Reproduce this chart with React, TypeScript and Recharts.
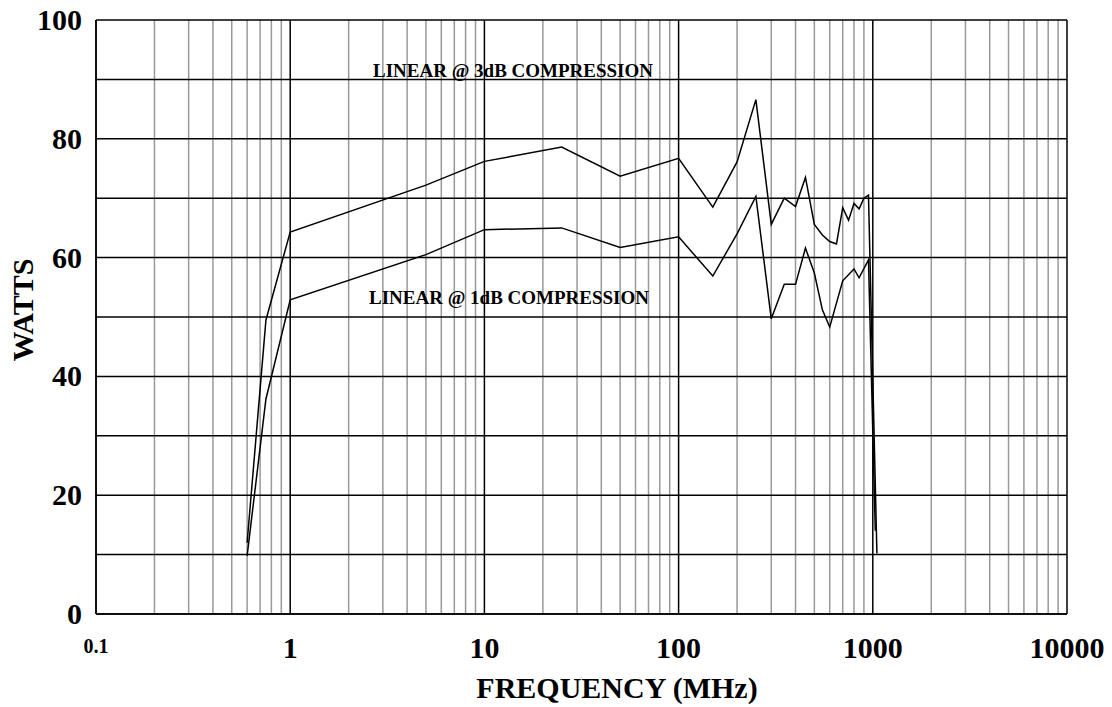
import React from 'react';
import { LineChart, Line, XAxis, YAxis, ReferenceLine, Label } from 'recharts';

const FONT = '"Liberation Serif", "Times New Roman", serif';

// 3dB compression curve: [frequency MHz, watts]
const freq3dB = [0.6, 0.75, 1, 5, 10, 25, 50, 100, 150, 200, 250, 300, 350, 400, 450, 500, 550, 600, 650, 700, 750, 800, 850, 900, 950, 1050];
const watts3dB = [12, 49.5, 64.3, 72.2, 76.2, 78.6, 73.7, 76.7, 68.5, 76.1, 86.6, 65.6, 70, 68.6, 73.5, 65.6, 63.8, 62.7, 62.3, 68.4, 66.3, 69.1, 68.2, 70, 70.5, 10.2];

// 1dB compression curve
const freq1dB = [0.6, 0.75, 1, 5, 10, 25, 50, 100, 150, 200, 250, 300, 350, 400, 450, 500, 550, 600, 700, 800, 850, 950, 1030];
const watts1dB = [9.8, 36.2, 52.9, 60.5, 64.7, 65, 61.7, 63.5, 56.9, 64, 70.3, 49.7, 55.5, 55.5, 61.6, 57.4, 51.2, 48.3, 56.1, 58.1, 56.6, 59.6, 14];

const xTicks = [0.1, 1, 10, 100, 1000, 10000];
const xTickLabels = ['0.1', '1', '10', '100', '1000', '10000'];
const minorMultipliers = [2, 3, 4, 5, 6, 7, 8, 9];
const yTicks = [0, 10, 20, 30, 40, 50, 60, 70, 80, 90, 100];
const yTickLabels = ['0', '', '20', '', '40', '', '60', '', '80', '', '100'];

const data3dB = freq3dB.map((f, i) => ({ f, w: watts3dB[i] }));
const data1dB = freq1dB.map((f, i) => ({ f, w: watts1dB[i] }));

const minorX: number[] = [];
xTicks.slice(0, -1).forEach((d) => minorMultipliers.forEach((m) => minorX.push(Number((d * m).toPrecision(3)))));

const XTick = (props: any) => {
  const { x, y, payload } = props;
  const idx = xTicks.indexOf(payload.value);
  const label = idx >= 0 ? xTickLabels[idx] : '';
  const small = payload.value === 0.1;
  return (
    <text x={x} y={y + (small ? 39 : 44)} textAnchor="middle" fontFamily={FONT} fontWeight="bold" fontSize={small ? 20 : 30} fill="#000">
      {label}
    </text>
  );
};

const YTick = (props: any) => {
  const { x, y, payload } = props;
  const idx = yTicks.indexOf(payload.value);
  const label = idx >= 0 ? yTickLabels[idx] : '';
  return (
    <text x={x} y={y + 10} textAnchor="end" fontFamily={FONT} fontWeight="bold" fontSize={30} fill="#000">
      {label}
    </text>
  );
};

export default function App() {
  return (
    <div style={{ position: 'absolute', left: 0, top: 0, width: 1112, height: 707, background: '#fff' }}>
      <LineChart width={1112} height={707} margin={{ top: 20, right: 45, bottom: 0, left: 0 }}>
        <XAxis
          dataKey="f"
          type="number"
          scale="log"
          domain={[0.1, 10000]}
          ticks={xTicks}
          allowDataOverflow
          height={93}
          tickSize={0}
          tickMargin={0}
          tick={<XTick />}
          axisLine={{ stroke: '#000', strokeWidth: 1.5 }}
          tickLine={false}
        >
          <Label
            content={(p: any) => {
              const vb = p.viewBox;
              return (
                <text x={617} y={vb.y + 84} textAnchor="middle" fontFamily={FONT} fontWeight="bold" fontSize={30} fill="#000">
                  FREQUENCY (MHz)
                </text>
              );
            }}
          />
        </XAxis>
        <YAxis
          type="number"
          domain={[0, 100]}
          ticks={yTicks}
          width={96}
          tickSize={0}
          tickMargin={14}
          tick={<YTick />}
          axisLine={{ stroke: '#000', strokeWidth: 1.5 }}
          tickLine={false}
        >
          <Label
            content={() => (
              <text x={0} y={0} transform="translate(33,310) rotate(-90)" textAnchor="middle" fontFamily={FONT} fontWeight="bold" fontSize={30} fill="#000">
                WATTS
              </text>
            )}
          />
        </YAxis>
        {minorX.map((v) => (
          <ReferenceLine key={'mx' + v} x={v} stroke="#999" strokeWidth={1.5} />
        ))}
        {xTicks.map((v) => (
          <ReferenceLine key={'Mx' + v} x={v} stroke="#000" strokeWidth={1.5} />
        ))}
        {yTicks.map((v) => (
          <ReferenceLine key={'y' + v} y={v} stroke="#000" strokeWidth={1.5} />
        ))}
        <Line data={data3dB} dataKey="w" stroke="#000" strokeWidth={1.5} dot={false} isAnimationActive={false} />
        <Line data={data1dB} dataKey="w" stroke="#000" strokeWidth={1.5} dot={false} isAnimationActive={false} />
        <ReferenceLine
          y={86}
          stroke="none"
          label={(p: any) => (
            <text x={513} y={77} textAnchor="middle" fontFamily={FONT} fontWeight="bold" fontSize={19} fill="#000">
              LINEAR @ 3dB COMPRESSION
            </text>
          )}
        />
        <ReferenceLine
          y={53}
          stroke="none"
          label={(p: any) => (
            <text x={509} y={304} textAnchor="middle" fontFamily={FONT} fontWeight="bold" fontSize={19} fill="#000">
              LINEAR @ 1dB COMPRESSION
            </text>
          )}
        />
      </LineChart>
    </div>
  );
}
